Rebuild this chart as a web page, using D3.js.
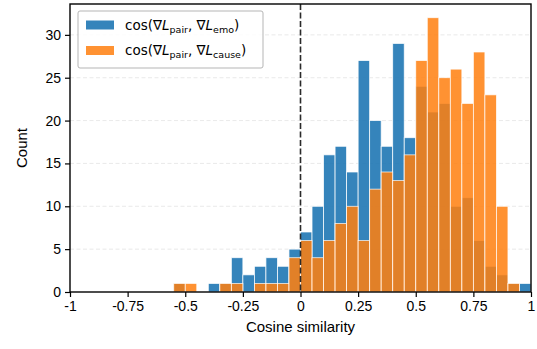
<!DOCTYPE html>
<html>
<head>
<meta charset="utf-8">
<script src="https://cdn.jsdelivr.net/npm/d3@7"></script>
<style>
  body { margin: 0; background: #fff; }
  text { font-family: "Liberation Sans", Arial, sans-serif; }
  text.legend-label { font-family: "DejaVu Sans", sans-serif; }
</style>
</head>
<body>
<div class="chart"></div>
<script>
// histogram of cosine similarities between gradients, two overlaid series

// bin left edges (bin width 0.05)
var binStarts = [-0.55, -0.5, -0.45, -0.4, -0.35, -0.3, -0.25, -0.2, -0.15, -0.1, -0.05,
    0, 0.05, 0.1, 0.15, 0.2, 0.25, 0.3, 0.35, 0.4, 0.45,
    0.5, 0.55, 0.6, 0.65, 0.7, 0.75, 0.8, 0.85, 0.9, 0.95];
var binWidth = 0.05;

// counts per bin
var emoCounts = [1, 0, 0, 1, 1, 4, 2, 3, 4, 3, 5,
    7, 10, 16, 17, 14, 27, 20, 17, 29, 18,
    24, 21, 22, 10, 11, 6, 3, 2, 1, 1];
var causeCounts = [1, 1, 0, 0, 1, 1, 0, 1, 1, 1, 4,
    6, 4, 6, 8, 10, 6, 12, 14, 13, 16,
    27, 32, 25, 26, 22, 28, 23, 10, 1, 0];

var xTicks = [-1, -0.75, -0.5, -0.25, 0, 0.25, 0.5, 0.75, 1];
var xTickLabels = ["-1", "-0.75", "-0.5", "-0.25", "0", "0.25", "0.5", "0.75", "1"];
var yTicks = [0, 5, 10, 15, 20, 25, 30];

var svgWidth = 537;
var svgHeight = 349;
var margin = { top: 4, right: 6, bottom: 57, left: 70 };
var width = svgWidth - margin.left - margin.right;
var height = svgHeight - margin.top - margin.bottom;

var svg = d3.select(".chart")
    .append("svg")
    .attr("width", svgWidth)
    .attr("height", svgHeight)
    .append("g")
    .attr("transform", "translate(" + margin.left + "," + margin.top + ")");

var xScale = d3.scaleLinear().domain([-1, 1]).range([0, width]);
var yScale = d3.scaleLinear().domain([0, 33.6]).range([height, 0]);

// grid lines
svg.append("g")
    .selectAll("line")
    .data(yTicks.slice(1))
    .enter().append("line")
    .attr("x1", 0)
    .attr("x2", width)
    .attr("y1", function(d) { return yScale(d); })
    .attr("y2", function(d) { return yScale(d); })
    .attr("stroke", "#b0b0b0")
    .attr("stroke-opacity", 0.35)
    .attr("stroke-width", 0.8)
    .attr("stroke-dasharray", "4,2.5");

// the two series, blue first then orange over it
function drawSeries(counts, color, alpha) {
    svg.append("g")
        .selectAll("rect")
        .data(binStarts.map(function(b, i) { return { x0: b, n: counts[i] }; })
            .filter(function(d) { return d.n > 0; }))
        .enter().append("rect")
        .attr("x", function(d) { return xScale(d.x0); })
        .attr("width", function(d) { return xScale(d.x0 + binWidth) - xScale(d.x0); })
        .attr("y", function(d) { return yScale(d.n); })
        .attr("height", function(d) { return yScale(0) - yScale(d.n); })
        .attr("fill", color)
        .attr("fill-opacity", alpha)
        .attr("stroke", "#fff")
        .attr("stroke-opacity", alpha)
        .attr("stroke-width", 0.8);
}
drawSeries(emoCounts, "#1f77b4", 0.9);
drawSeries(causeCounts, "#ff7f0e", 0.85);

// dashed line at zero
svg.append("line")
    .attr("x1", xScale(0))
    .attr("x2", xScale(0))
    .attr("y1", 0)
    .attr("y2", height)
    .attr("stroke", "#2a2a2a")
    .attr("stroke-width", 1.6)
    .attr("stroke-dasharray", "6,2.5");

// axes
var bottomAxis = d3.axisBottom(xScale)
    .tickValues(xTicks)
    .tickFormat(function(d, i) { return xTickLabels[i]; })
    .tickSizeOuter(0)
    .tickSize(5)
    .tickPadding(4);
var leftAxis = d3.axisLeft(yScale)
    .tickValues(yTicks)
    .tickSizeOuter(0)
    .tickSize(5)
    .tickPadding(4);

var xg = svg.append("g")
    .attr("transform", "translate(0," + height + ")")
    .call(bottomAxis);
var yg = svg.append("g").call(leftAxis);

[xg, yg].forEach(function(g) {
    g.select(".domain").remove();
    g.selectAll("line").attr("stroke", "#000").attr("stroke-width", 1.2);
    g.selectAll("text").attr("font-size", 14).attr("fill", "#000");
});

// frame
svg.append("rect")
    .attr("x", 0)
    .attr("y", 0)
    .attr("width", width)
    .attr("height", height)
    .attr("fill", "none")
    .attr("stroke", "#000")
    .attr("stroke-width", 1.4);

// axis labels
svg.append("text")
    .attr("x", width / 2)
    .attr("y", height + 40)
    .attr("text-anchor", "middle")
    .attr("font-size", 15)
    .text("Cosine similarity");

svg.append("text")
    .attr("transform", "rotate(-90)")
    .attr("x", -height / 2)
    .attr("y", -margin.left + 27)
    .attr("text-anchor", "middle")
    .attr("font-size", 15)
    .text("Count");

// legend
var legend = svg.append("g")
    .attr("transform", "translate(" + (78 - margin.left) + "," + (11 - margin.top) + ")");

legend.append("rect")
    .attr("width", 185)
    .attr("height", 57)
    .attr("rx", 2)
    .attr("fill", "#fff")
    .attr("fill-opacity", 0.85)
    .attr("stroke", "#b5b5b5")
    .attr("stroke-width", 1);

var legendItems = [
    { color: "#1f77b4", alpha: 0.9, sub: "emo" },
    { color: "#ff7f0e", alpha: 0.85, sub: "cause" }
];

legendItems.forEach(function(item, i) {
    var rowY = 13.5 + i * 25.5;
    legend.append("rect")
        .attr("x", 8)
        .attr("y", rowY - 4)
        .attr("width", 28)
        .attr("height", 9)
        .attr("fill", item.color)
        .attr("fill-opacity", item.alpha);

    var t = legend.append("text")
        .attr("class", "legend-label")
        .attr("x", 47)
        .attr("y", rowY + 5)
        .attr("font-size", 13.5);
    t.append("tspan").text("cos(\u2207");
    t.append("tspan").attr("font-style", "italic").text("L");
    t.append("tspan").attr("font-size", 9.5).attr("dy", 3).text("pair");
    t.append("tspan").attr("dy", -3).text(", \u2207");
    t.append("tspan").attr("font-style", "italic").text("L");
    t.append("tspan").attr("font-size", 9.5).attr("dy", 3).text(item.sub);
    t.append("tspan").attr("dy", -3).text(")");
});
</script>
</body>
</html>
